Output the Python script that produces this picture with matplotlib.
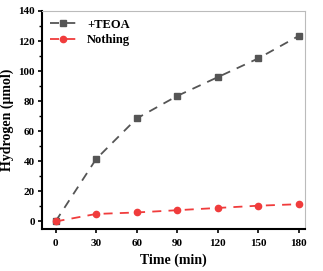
import numpy as np
import matplotlib.pyplot as plt
from matplotlib.ticker import MultipleLocator

# Data
time_min = [0, 30, 60, 90, 120, 150, 180]
teoa = [0, 41.5, 68.5, 83.5, 96, 108.5, 123.5]
nothing = [0, 5, 6, 7.5, 9, 10.5, 11.5]

plt.rcParams['font.family'] = ['Liberation Serif', 'DejaVu Serif']
plt.rcParams['font.weight'] = 'bold'

fig = plt.figure(figsize=(3.23, 2.71), dpi=100)
ax = fig.add_axes([42 / 323, 1 - 229 / 271, (305 - 42) / 323, (229 - 11) / 271])

ax.plot(time_min, teoa, ls=(0, (5, 4)), color='#555555', lw=1.3,
        marker='s', ms=3.8, label='+TEOA')
ax.plot(time_min, nothing, ls=(0, (5, 4)), color='#f03c3c', lw=1.3,
        marker='o', ms=4.5, label='Nothing')

ax.set_xlim(-10, 184.5)
ax.set_ylim(-5, 140)
ax.set_xticks(time_min)
ax.yaxis.set_major_locator(MultipleLocator(20))
ax.yaxis.set_minor_locator(MultipleLocator(10))

ax.set_xlabel('Time (min)', fontsize=10, fontweight='bold', labelpad=4)
ax.set_ylabel('Hydrogen (\u03bcmol)', fontsize=10, fontweight='bold')
ax.yaxis.set_label_coords(-0.105, 0.5)

for s in ['left', 'bottom']:
    ax.spines[s].set_linewidth(1.5)
    ax.spines[s].set_color('black')
for s in ['top', 'right']:
    ax.spines[s].set_linewidth(0.8)
    ax.spines[s].set_color('#bbbbbb')

ax.tick_params(axis='both', which='major', labelsize=8, direction='out',
               length=3, width=1.2, top=False, right=False, pad=2)
ax.tick_params(axis='x', which='major', pad=4)
ax.tick_params(axis='y', which='minor', direction='out', length=2, width=1)
for lab in ax.get_xticklabels() + ax.get_yticklabels():
    lab.set_fontweight('bold')

leg = ax.legend(loc='upper left', frameon=False,
                handlelength=2.2, borderaxespad=0.2, labelspacing=0.3,
                prop={'weight': 'bold', 'size': 9})

fig.savefig('out.png', dpi=100)
